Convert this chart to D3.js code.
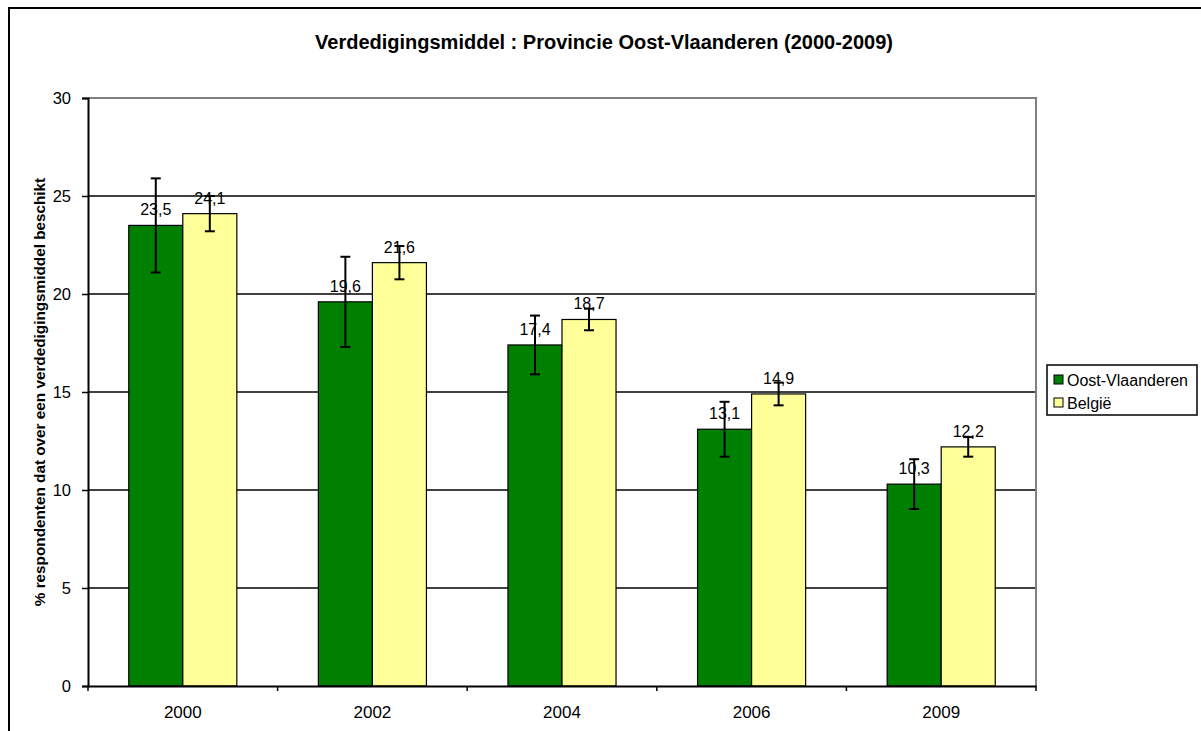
<!DOCTYPE html>
<html>
<head>
<meta charset="utf-8">
<script src="https://cdn.jsdelivr.net/npm/d3@7"></script>
<style>
  body { margin: 0; background: #fff; }
  text { font-family: Arial, "Liberation Sans", sans-serif; }
</style>
</head>
<body>
<div id="chart"></div>
<script>
var years = ["2000", "2002", "2004", "2006", "2009"];
var seriesNames = ["Oost-Vlaanderen", "België"];
var oostValues = [23.5, 19.6, 17.4, 13.1, 10.3];
var belgieValues = [24.1, 21.6, 18.7, 14.9, 12.2];
var oostErrors = [2.4, 2.3, 1.5, 1.4, 1.27];
var belgieErrors = [0.9, 0.85, 0.55, 0.58, 0.5];
var yTicks = [0, 5, 10, 15, 20, 25, 30];
var colors = ["#008000", "#FFFF99"];

var data = [];
years.forEach(function(yr, i) {
  data.push({year: yr, s: 0, v: oostValues[i], e: oostErrors[i]});
  data.push({year: yr, s: 1, v: belgieValues[i], e: belgieErrors[i]});
});

var W = 1201, H = 731;
var svg = d3.select("#chart").append("svg")
  .attr("width", W)
  .attr("height", H);

// outer chart border
svg.append("path")
  .attr("d", "M9,740 L9,8 L1210,8")
  .style("fill", "none")
  .style("stroke", "#000")
  .style("stroke-width", 2);

var pLeft = 88, pRight = 1036, pTop = 98, pBottom = 686;

var x0 = d3.scaleBand().domain(years).range([pLeft, pRight]);
var bw = x0.bandwidth();
var x1 = d3.scaleBand().domain([0, 1]).range([bw * 0.215, bw * 0.785]);
var y = d3.scaleLinear().domain([0, 30]).range([pBottom, pTop]);

function cx(d) { return x0(d.year) + x1(d.s) + x1.bandwidth() / 2; }

// gridlines
svg.append("g")
  .selectAll("line")
  .data(yTicks.filter(function(d) { return d > 0 && d < 30; }))
  .enter().append("line")
    .attr("x1", pLeft).attr("x2", pRight)
    .attr("y1", function(d) { return y(d); })
    .attr("y2", function(d) { return y(d); })
    .style("stroke", "#000")
    .style("stroke-width", 1.3);

// plot border top/right (gray)
svg.append("path")
  .attr("d", "M" + pLeft + "," + y(30) + " L" + pRight + "," + y(30) + " L" + pRight + "," + pBottom)
  .style("fill", "none")
  .style("stroke", "#808080")
  .style("stroke-width", 2);

// bars
svg.append("g")
  .selectAll("rect")
  .data(data)
  .enter().append("rect")
    .attr("x", function(d) { return x0(d.year) + x1(d.s); })
    .attr("y", function(d) { return y(d.v); })
    .attr("width", x1.bandwidth())
    .attr("height", function(d) { return pBottom - y(d.v); })
    .style("fill", function(d) { return colors[d.s]; })
    .style("stroke", "#000")
    .style("stroke-width", 1.2);

// value labels
svg.append("g")
  .selectAll("text")
  .data(data)
  .enter().append("text")
    .attr("x", cx)
    .attr("y", function(d) { return y(d.v) - 10; })
    .attr("text-anchor", "middle")
    .style("font-size", "16px")
    .text(function(d) { return String(d.v).replace(".", ","); });

// error bars
var eb = svg.append("g")
  .selectAll("g")
  .data(data)
  .enter().append("g")
    .style("stroke", "#000")
    .style("stroke-width", 2);
eb.append("line")
  .attr("x1", cx)
  .attr("x2", cx)
  .attr("y1", function(d) { return y(d.v + d.e); })
  .attr("y2", function(d) { return y(d.v - d.e); });
[1, -1].forEach(function(sign) {
  eb.append("line")
    .attr("x1", function(d) { return cx(d) - 5; })
    .attr("x2", function(d) { return cx(d) + 5; })
    .attr("y1", function(d) { return y(d.v + sign * d.e); })
    .attr("y2", function(d) { return y(d.v + sign * d.e); });
});

// y axis
var yax = d3.axisLeft(y).tickValues(yTicks).tickSize(6).tickPadding(11);
var gy = svg.append("g")
  .attr("transform", "translate(" + pLeft + ",0)")
  .call(yax);
gy.select(".domain").style("stroke-width", 2);
gy.selectAll(".tick line").style("stroke-width", 1.5);
gy.selectAll("text").style("font-size", "16.5px").style("font-family", "Arial, 'Liberation Sans', sans-serif");

// x axis
var xax = d3.axisBottom(x0).tickSize(0).tickPadding(20);
var gx = svg.append("g")
  .attr("transform", "translate(0," + pBottom + ")")
  .call(xax);
gx.select(".domain").style("stroke-width", 2);
gx.selectAll("text").style("font-size", "17px").style("font-family", "Arial, 'Liberation Sans', sans-serif");
// tick marks at band edges
gx.selectAll(".edge")
  .data(years.map(function(d) { return x0(d); }).concat([pRight]))
  .enter().append("line")
    .attr("x1", function(d) { return d; })
    .attr("x2", function(d) { return d; })
    .attr("y1", 0).attr("y2", 5)
    .style("stroke", "#000")
    .style("stroke-width", 1.5);

// title
svg.append("text")
  .attr("x", 604)
  .attr("y", 49)
  .attr("text-anchor", "middle")
  .style("font-size", "20px")
  .style("font-weight", "bold")
  .text("Verdedigingsmiddel : Provincie Oost-Vlaanderen (2000-2009)");

// y axis title
svg.append("text")
  .attr("transform", "translate(45," + (pTop + pBottom) / 2 + ") rotate(-90)")
  .attr("text-anchor", "middle")
  .style("font-size", "15.3px")
  .style("font-weight", "bold")
  .text("% respondenten dat over een verdedigingsmiddel beschikt");

// legend
var lg = svg.append("g").attr("transform", "translate(1047,365)");
lg.append("rect")
  .attr("width", 150).attr("height", 50)
  .style("fill", "#fff")
  .style("stroke", "#000")
  .style("stroke-width", 1.5);
var li = lg.selectAll(".li")
  .data(seriesNames)
  .enter().append("g")
    .attr("transform", function(d, i) { return "translate(7," + (10 + i * 23) + ")"; });
li.append("rect")
  .attr("width", 9).attr("height", 9)
  .style("fill", function(d, i) { return colors[i]; })
  .style("stroke", "#000")
  .style("stroke-width", 1);
li.append("text")
  .attr("x", 13).attr("y", 10.5)
  .style("font-size", "16px")
  .text(function(d) { return d; });
</script>
</body>
</html>
